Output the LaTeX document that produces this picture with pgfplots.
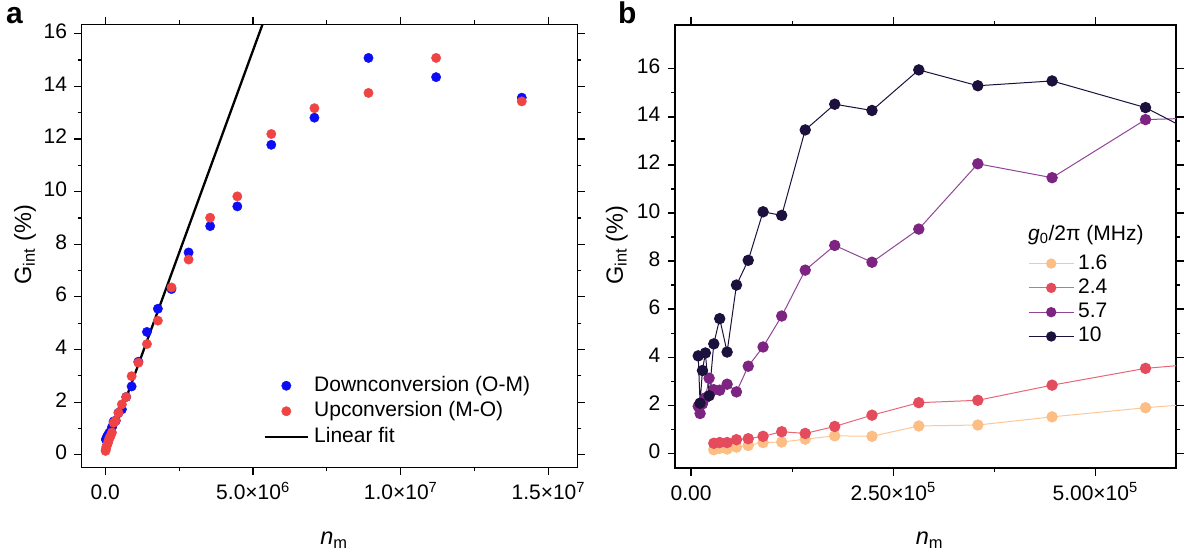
\documentclass[border=0pt]{standalone}
\usepackage{fontspec}
\setmainfont{Liberation Sans}
\usepackage{pgfplots}
\pgfplotsset{compat=1.18}

\definecolor{cblue}{RGB}{12,12,245}
\definecolor{cred}{RGB}{240,68,68}
\definecolor{cA}{RGB}{253,190,133}
\definecolor{cB}{RGB}{228,76,94}
\definecolor{cC}{RGB}{125,36,130}
\definecolor{cD}{RGB}{28,17,60}

\pgfplotsset{
  dotleg/.style={legend image code/.code={\draw[##1] plot coordinates {(21.7bp,0bp)};}},
  lineleg/.style={legend image code/.code={\draw[##1] (0bp,0bp) -- (43.4bp,0bp);}},
  bleg/.style={legend image code/.code={\draw[##1] (0bp,0bp) -- (45bp,0bp);
     \draw[##1, draw opacity=0] plot coordinates {(22.5bp,0bp)};}},
  common/.style={
    scale only axis, height=443bp,
    axis line style={line width=1.1bp, black},
    every tick/.style={line width=1.1bp, black},
    tick align=outside,
    major tick length=7.5bp, minor tick length=4bp,
    tick label style={font=\fontsize{21bp}{25bp}\selectfont},
    label style={font=\fontsize{23.5bp}{28bp}\selectfont},
    yticklabel style={/pgf/number format/assume math mode=true},
    typeset ticklabels with strut,
    scaled ticks=false,
    ytick={0,2,...,16}, minor y tick num=1,
    minor x tick num=1,
    ylabel={G\textsubscript{int} (\%)},
    xlabel={\textit{n}\textsubscript{m}},
    legend cell align=left,
  },
}

\begin{document}
\fontsize{21bp}{25bp}\selectfont
\begin{tikzpicture}
% ---------------- panel a
\begin{axis}[common, width=495.6bp,
  at={(81.7bp,84.5bp)}, anchor=south west,
  xmin=-7.99e5, xmax=1.598e7, ymin=-0.48, ymax=16.35,
  xtick={0,5e6,1e7,1.5e7},
  xticklabels={0.0, 5.0×10\textsuperscript{6}, 1.0×10\textsuperscript{7}, 1.5×10\textsuperscript{7}},
  ylabel style={at={(axis description cs:-0.1144,0.503)}, anchor=center},
  xlabel style={at={(axis description cs:0.509,-0.1735)}, anchor=base},
  legend style={at={(axis description cs:0.3664,0.2087)}, anchor=north west,
    draw=none, fill=none, inner sep=0pt, row sep=4.5bp, column sep=1bp,
    font=\fontsize{21bp}{25bp}\selectfont,
    nodes={inner xsep=4bp, inner ysep=0bp, text height=16bp, text depth=5bp}},
]
\addplot[only marks, mark=*, mark size=4.7bp, color=cblue, dotleg]
coordinates {
(2.0e4,0.58) (3.5e4,0.62) (5.6e4,0.68) (8.9e4,0.75) (1.41e5,0.85) (2.24e5,1.05)
(2.82e5,1.27) (3.55e5,1.30) (4.47e5,1.60) (5.62e5,1.73) (7.08e5,2.20) (8.91e5,2.60)
(1.12e6,3.54) (1.41e6,4.67) (1.78e6,5.55) (2.24e6,6.30) (2.82e6,7.69) (3.55e6,8.69)
(4.47e6,9.44) (5.62e6,11.78) (7.08e6,12.81) (8.91e6,15.08) (1.12e7,14.35) (1.41e7,13.57)
};
\addlegendentry{Downconversion (O-M)}
\addplot[only marks, mark=*, mark size=4.7bp, color=cred, dotleg]
coordinates {
(1.0e4,0.15) (2.2e4,0.22) (3.5e4,0.30) (5.6e4,0.36) (8.9e4,0.45) (1.12e5,0.55)
(1.41e5,0.65) (1.78e5,0.72) (2.24e5,0.85) (2.82e5,1.22) (3.55e5,1.30) (4.47e5,1.60)
(5.62e5,1.92) (7.08e5,2.20) (8.91e5,2.99) (1.12e6,3.50) (1.41e6,4.21) (1.78e6,5.10)
(2.24e6,6.36) (2.82e6,7.42) (3.55e6,9.01) (4.47e6,9.82) (5.62e6,12.19) (7.08e6,13.17)
(8.91e6,13.75) (1.12e7,15.08) (1.41e7,13.43)
};
\addlegendentry{Upconversion (M-O)}
\addplot[black, line width=2.3bp, no marks, lineleg]
coordinates {(5.2e4,0.15) (5.5e6,16.90)};
\addlegendentry{Linear fit}
\end{axis}

% ---------------- panel b
\begin{axis}[common, width=501bp,
  at={(675bp,84bp)}, anchor=south west,
  xmin=-1.98e4, xmax=6.0e5, ymin=-0.62, ymax=17.83,
  xtick={0,2.5e5,5e5},
  xticklabels={0.00, 2.50×10\textsuperscript{5}, 5.00×10\textsuperscript{5}},
  ylabel style={at={(axis description cs:-0.116,0.503)}, anchor=center},
  xlabel style={at={(axis description cs:0.508,-0.1725)}, anchor=base},
  legend style={at={(axis description cs:0.7046,0.4856)}, anchor=north west,
    draw=none, fill=none, inner sep=0pt, row sep=3.3bp, column sep=0bp,
    font=\fontsize{21bp}{25bp}\selectfont,
    nodes={inner xsep=4bp, inner ysep=0bp, text height=16bp, text depth=5bp}},
  bleg,
]
\addplot[color=cA!85!white, line width=1bp, mark=*, mark size=5.2bp,
  mark options={fill=cA, draw=cA}]
coordinates {
(2.818e4,0.14) (3.548e4,0.20) (4.467e4,0.17) (5.623e4,0.25) (7.079e4,0.32)
(8.913e4,0.44) (1.122e5,0.46) (1.413e5,0.58) (1.778e5,0.72) (2.239e5,0.70)
(2.818e5,1.13) (3.548e5,1.17) (4.467e5,1.51) (5.623e5,1.89) (7.079e5,2.27)
};
\addlegendentry{1.6}
\addplot[color=cB!85!white, line width=1bp, mark=*, mark size=5.2bp,
  mark options={fill=cB, draw=cB}]
coordinates {
(2.818e4,0.41) (3.548e4,0.44) (4.467e4,0.44) (5.623e4,0.56) (7.079e4,0.60)
(8.913e4,0.70) (1.122e5,0.89) (1.413e5,0.82) (1.778e5,1.11) (2.239e5,1.58)
(2.818e5,2.10) (3.548e5,2.20) (4.467e5,2.83) (5.623e5,3.53) (7.079e5,3.95)
};
\addlegendentry{2.4}
\addplot[color=cC!85!white, line width=1bp, mark=*, mark size=5.2bp,
  mark options={fill=cC, draw=cC}]
coordinates {
(8.913e3,1.95) (1.122e4,1.65) (1.413e4,2.05) (1.778e4,2.30) (2.239e4,3.12)
(2.818e4,2.64) (3.548e4,2.62) (4.467e4,2.87) (5.623e4,2.55) (7.079e4,3.62)
(8.913e4,4.42) (1.122e5,5.71) (1.413e5,7.62) (1.778e5,8.65) (2.239e5,7.95)
(2.818e5,9.33) (3.548e5,12.05) (4.467e5,11.47) (5.623e5,13.89) (7.079e5,14.04)
};
\addlegendentry{5.7}
\addplot[color=cD, line width=1bp, mark=*, mark size=5.2bp,
  mark options={fill=cD, draw=cD}]
coordinates {
(8.913e3,4.05) (1.122e4,2.08) (1.413e4,3.44) (1.778e4,4.17) (2.239e4,2.39)
(2.818e4,4.55) (3.548e4,5.60) (4.467e4,4.21) (5.623e4,7.00) (7.079e4,8.03)
(8.913e4,10.05) (1.122e5,9.90) (1.413e5,13.46) (1.778e5,14.53) (2.239e5,14.27)
(2.818e5,15.96) (3.548e5,15.30) (4.467e5,15.50) (5.623e5,14.39) (7.079e5,11.85)
};
\addlegendentry{10}
\node[anchor=base west, inner sep=0pt, font=\fontsize{21bp}{25bp}\selectfont]
  at (axis description cs:0.7046,0.513) {\textit{g}\textsubscript{0}/2π (MHz)};
\end{axis}

\node[anchor=base west, inner sep=0pt, font=\bfseries\fontsize{30bp}{30bp}\selectfont] at (6bp,528bp) {a};
\node[anchor=base west, inner sep=0pt, font=\bfseries\fontsize{30bp}{30bp}\selectfont] at (618bp,528bp) {b};

\pgfresetboundingbox
\useasboundingbox (0,0) rectangle (1184bp,552bp);
\end{tikzpicture}
\end{document}
